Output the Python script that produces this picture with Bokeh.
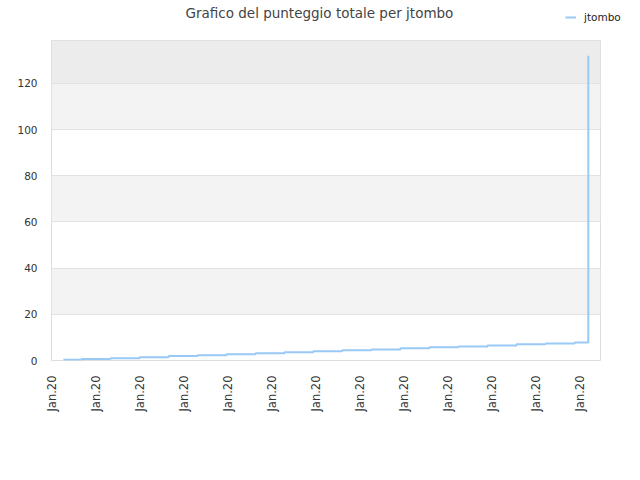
import math
from bokeh.plotting import figure
from bokeh.layouts import column, row
from bokeh.models import Range1d, FixedTicker, BoxAnnotation, Legend, LegendItem, Label
from bokeh.embed import file_html
from bokeh.resources import INLINE

# --- data ---
series_name = "jtombo"
x_vals = [0.27, 0.68, 1.34, 2.00, 2.66, 3.32, 3.98, 4.64, 5.30, 5.95,
          6.61, 7.27, 7.93, 8.59, 9.25, 9.91, 10.57, 11.23, 11.89, 12.20]
y_vals = [0.3, 0.6, 1.0, 1.4, 1.9, 2.3, 2.7, 3.1, 3.6, 4.0,
          4.4, 4.8, 5.3, 5.7, 6.1, 6.5, 7.0, 7.4, 7.8, 132]
x_ticks = [0, 1, 2, 3, 4, 5, 6, 7, 8, 9, 10, 11, 12]
x_tick_labels = ["Jan.20"] * 13
y_ticks = [0, 20, 40, 60, 80, 100, 120]
title_text = "Grafico del punteggio totale per jtombo"
line_color = "#99c9f5"

W = 624
HEADER_H = 28

# ---- header (title + legend) ----
# header ranges keep the series out of view: only its legend entry shows here
header = figure(width=W, height=HEADER_H, output_backend="svg", toolbar_location=None,
                x_range=Range1d(100, 100 + W), y_range=Range1d(0, HEADER_H),
                x_axis_type=None, y_axis_type=None,
                min_border_left=0, min_border_right=0, min_border_top=0, min_border_bottom=0)
header.outline_line_color = None
header.background_fill_color = "white"
header.border_fill_color = "white"
header.grid.grid_line_color = None
header.add_layout(Label(x=185, y=HEADER_H - 12, x_units="screen", y_units="screen",
                        text=title_text, text_font="DejaVu Sans", text_font_size="13.5px",
                        text_color="#444444", text_baseline="middle", text_align="left"))
legend_glyph = header.line(x_vals, y_vals, line_color=line_color, line_width=2)
legend = Legend(items=[LegendItem(label=series_name, renderers=[legend_glyph])],
                location=(565, 5), orientation="horizontal",
                background_fill_alpha=0, border_line_color=None,
                label_text_font="DejaVu Sans", label_text_font_size="10.5px",
                label_text_color="#222222", glyph_width=11, glyph_height=12,
                label_standoff=8, label_height=12,
                padding=0, margin=0, spacing=0)
header.add_layout(legend)

# ---- main chart ----
p = figure(width=W, height=436, output_backend="svg", toolbar_location=None,
           x_range=Range1d(0, 12.477), y_range=Range1d(0, 138.6),
           min_border_left=51, min_border_right=24, min_border_top=12, min_border_bottom=104)

p.background_fill_color = "white"
p.border_fill_color = "white"
p.outline_line_color = "#dddddd"
p.outline_line_width = 1

for lo, hi, col in [(20, 40, "#f3f3f3"), (60, 80, "#f3f3f3"), (100, 120, "#f3f3f3"), (120, None, "#ececec")]:
    b = BoxAnnotation(bottom=lo, top=hi, fill_color=col, fill_alpha=1, line_color=None, level="image")
    p.add_layout(b)

p.xgrid.grid_line_color = None
p.ygrid.grid_line_color = "#e2e2e2"
p.ygrid.ticker = FixedTicker(ticks=y_ticks)

p.yaxis.ticker = FixedTicker(ticks=y_ticks)
p.xaxis.ticker = FixedTicker(ticks=x_ticks)
p.xaxis.major_label_overrides = {t: l for t, l in zip(x_ticks, x_tick_labels)}
p.xaxis.major_label_orientation = math.pi / 2
for ax in (p.xaxis, p.yaxis):
    ax.axis_line_color = None
    ax.major_tick_line_color = None
    ax.minor_tick_line_color = None
    ax.major_label_text_font = "DejaVu Sans"
    ax.major_label_text_color = "#333333"
p.yaxis.major_label_text_font_size = "10.5px"
p.xaxis.major_label_text_font_size = "11.5px"
p.yaxis.major_label_standoff = 8
p.xaxis.major_label_standoff = 9

p.step(x_vals, y_vals, mode="after", line_color=line_color, line_width=2)

layout = column(row(header, spacing=0), p, spacing=0)
open("out.html", "w").write(file_html(layout, INLINE))
